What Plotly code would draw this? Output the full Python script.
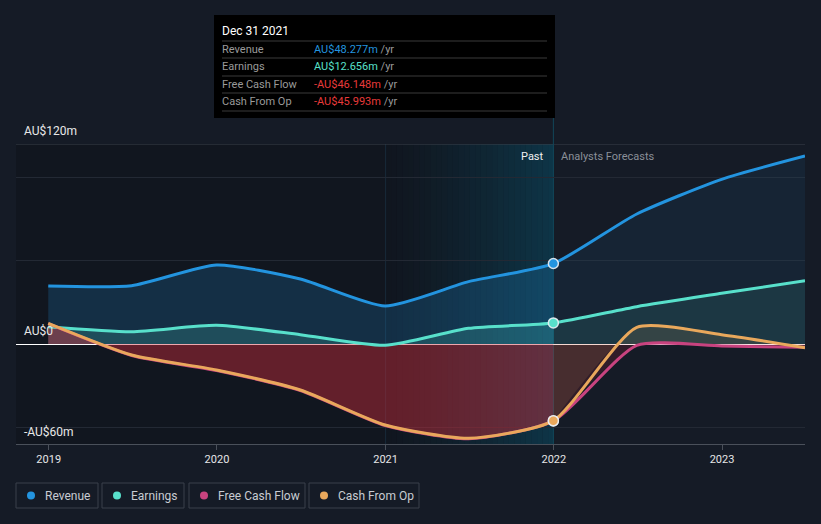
import plotly.graph_objects as go
import pandas as pd

# ---------------- data (AU$ millions) ----------------
dates = ["2018-12-31", "2019-06-30", "2019-12-31", "2020-06-30", "2020-12-31",
         "2021-06-30", "2021-12-31", "2022-06-30", "2022-12-31", "2023-06-30"]
revenue = [34.8, 35.0, 47.4, 39.0, 22.8, 37.4, 48.277, 78.0, 98.8, 112.8]
earnings = [10.4, 7.4, 11.2, 5.6, -0.8, 9.4, 12.656, 22.4, 30.4, 38.0]
free_cash_flow = [12.2, -6.9, -15.9, -27.9, -48.9, -56.9, -46.148, -0.8, -1.2, -2.0]
cash_from_op = [12.4, -6.6, -15.6, -27.6, -48.6, -56.6, -45.993, 10.0, 5.6, -2.2]
last_past = 6  # index of Dec 31 2021

year_ticks = ["2019-01-01", "2020-01-01", "2021-01-01", "2022-01-01", "2023-01-01"]
year_labels = ["2019", "2020", "2021", "2022", "2023"]

C_REV = "#2394df"
C_EARN = "#58e0cb"
C_FCF = "#c8437f"
C_CFO = "#e9a85c"
BG = "#151b26"

W, H = 821, 524
L, R, T, B = 16, 16, 144, 80
PW, PH = W - L - R, H - T - B


def px(x):
    return (x - L) / PW


def py(y):
    return (T + PH - y) / PH


fig = go.Figure()

spline = dict(shape="spline", smoothing=0.6)


def fill_trace(vals, sl, color):
    fig.add_trace(go.Scatter(x=dates[sl], y=vals[sl], mode="lines", fill="tozeroy",
                             fillcolor=color, line=dict(width=0, **spline),
                             hoverinfo="skip", showlegend=False))


past = slice(0, last_past + 1)
fut = slice(last_past, None)
fill_trace(revenue, past, "rgba(35,148,223,0.20)")
fill_trace(revenue, fut, "rgba(35,148,223,0.08)")
fill_trace(earnings, past, "rgba(88,224,203,0.17)")
fill_trace(earnings, fut, "rgba(88,224,203,0.10)")
fill_trace(free_cash_flow, past, "rgba(215,45,60,0.42)")
fill_trace(free_cash_flow, fut, "rgba(215,45,60,0.15)")
fill_trace(cash_from_op, fut, "rgba(233,168,92,0.12)")

for vals, col in [(revenue, C_REV), (earnings, C_EARN), (free_cash_flow, C_FCF), (cash_from_op, C_CFO)]:
    fig.add_trace(go.Scatter(x=dates, y=vals, mode="lines", line=dict(color=col, width=3, **spline),
                             hoverinfo="skip", showlegend=False))

for vals, col in [(revenue, C_REV), (earnings, C_EARN), (free_cash_flow, C_FCF), (cash_from_op, C_CFO)]:
    fig.add_trace(go.Scatter(x=[dates[last_past]], y=[vals[last_past]], mode="markers",
                             marker=dict(color=col, size=10, line=dict(color="rgba(235,240,245,0.9)", width=1.5)),
                             hoverinfo="skip", showlegend=False))

shapes = []
# darker past background
shapes.append(dict(type="rect", xref="paper", yref="paper", x0=0, x1=px(554), y0=0, y1=1,
                   fillcolor="rgba(0,0,0,0.18)", line=dict(width=0), layer="below"))
# gradient highlight 2021 -> 2022
edges = pd.date_range("2021-01-01", "2022-01-01", periods=31)
n = len(edges) - 1
for i in range(n):
    a = 0.01 + 0.42 * (i / (n - 1)) ** 1.3
    shapes.append(dict(type="rect", xref="x", yref="paper", x0=edges[i], x1=edges[i + 1], y0=0, y1=1,
                       fillcolor=f"rgba(10,95,125,{a:.3f})", line=dict(width=0), layer="below"))
# 2021 faint line
shapes.append(dict(type="line", xref="x", yref="paper", x0="2021-01-01", x1="2021-01-01", y0=0, y1=1,
                   line=dict(color="rgba(30,60,80,0.55)", width=1), layer="below"))
# top border at 120
shapes.append(dict(type="line", xref="paper", yref="y", x0=0, x1=1, y0=120, y1=120,
                   line=dict(color="#3b404a", width=1), layer="below"))
# hover line at Dec 31 2021
shapes.append(dict(type="line", xref="x", yref="paper", x0=dates[last_past], x1=dates[last_past],
                   y0=0, y1=py(118), line=dict(color="#12475a", width=1), layer="below"))

# tooltip
shapes.append(dict(type="rect", xref="paper", yref="paper", x0=px(214), x1=px(555), y0=py(118), y1=py(15),
                   fillcolor="#000000", line=dict(width=0)))
for ys in [41, 58, 76, 93, 111]:
    shapes.append(dict(type="line", xref="paper", yref="paper", x0=px(222), x1=px(547), y0=py(ys), y1=py(ys),
                       line=dict(color="#3a3a3a", width=1)))

ann = []


def text(x, y, s, color, size, anchor="left", font="Roboto"):
    ann.append(dict(xref="paper", yref="paper", x=px(x), y=py(y), text=s, showarrow=False,
                    xanchor=anchor, yanchor="middle", font=dict(color=color, size=size, family=font)))


text(220, 31, "Dec 31 2021", "#ffffff", 12)
rows = [("Revenue", "AU$48.277m", "#2394df"), ("Earnings", "AU$12.656m", "#58e0cb"),
        ("Free Cash Flow", "-AU$46.148m", "#e83a3a"), ("Cash From Op", "-AU$45.993m", "#e83a3a")]
for i, (lab, val, col) in enumerate(rows):
    yy = 49 + i * 17.5
    text(220, yy, lab, "#9a9a9a", 11)
    ann.append(dict(xref="paper", yref="paper", x=px(312), y=py(yy), showarrow=False, xanchor="left",
                    yanchor="middle", text=f"<span style='color:{col}'>{val}</span> <span style='color:#9a9a9a'>/yr</span>",
                    font=dict(size=11, family="Roboto")))

# y labels
text(22, 131, "AU$120m", "#e8e8e8", 12)
text(22, 331, "AU$0", "#e8e8e8", 12)
text(22, 432, "-AU$60m", "#e8e8e8", 12)
# past / forecast
text(546, 156, "Past", "#f0f0f0", 11, anchor="right")
text(559, 156, "Analysts Forecasts", "#8a8f98", 11)

# legend
legend_items = [("Revenue", C_REV, 16, 98), ("Earnings", C_EARN, 102, 184),
                ("Free Cash Flow", C_FCF, 189, 305), ("Cash From Op", C_CFO, 309, 419)]
for lab, col, x0, x1 in legend_items:
    shapes.append(dict(type="rect", xref="paper", yref="paper", x0=px(x0), x1=px(x1), y0=py(508), y1=py(483),
                       fillcolor="rgba(0,0,0,0)", line=dict(color="#3a404b", width=1)))
    shapes.append(dict(type="circle", xref="paper", yref="paper", x0=px(x0 + 11), x1=px(x0 + 19),
                       y0=py(499.5), y1=py(491.5), fillcolor=col, line=dict(width=0)))
    text(x0 + 27, 496, lab, "#c8ccd2", 12)

fig.update_layout(
    width=W, height=H, margin=dict(l=L, r=R, t=T, b=B),
    paper_bgcolor=BG, plot_bgcolor=BG,
    shapes=shapes, annotations=ann, showlegend=False,
    font=dict(family="Roboto", color="#e0e0e0"),
    xaxis=dict(type="date", range=["2018-10-22", "2023-06-30"], tickvals=year_ticks, ticktext=year_labels,
               showgrid=False, zeroline=False, showline=True, linecolor="#4a505a", linewidth=1,
               ticks="outside", tickcolor="#4a505a", ticklen=5, tickfont=dict(size=11, color="#e6e6e6")),
    yaxis=dict(range=[-60, 120], tickvals=[-50, 0, 50, 100], showticklabels=False,
               showgrid=True, gridcolor="#232934", gridwidth=1,
               zeroline=True, zerolinecolor="#ffffff", zerolinewidth=1.2, showline=False, fixedrange=True),
)

fig.write_html("out.html")
